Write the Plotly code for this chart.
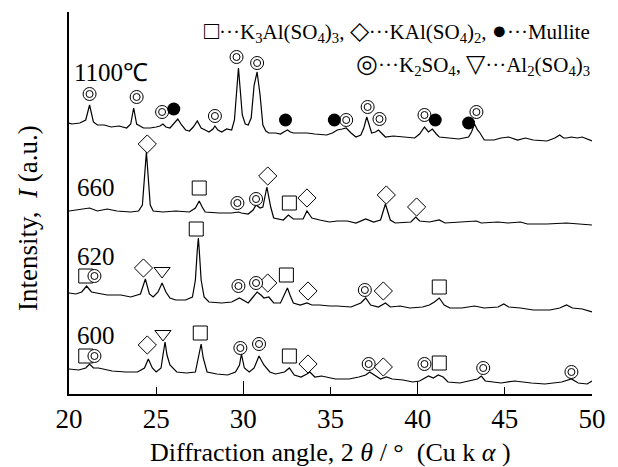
import plotly.graph_objects as go

# ---------------- data (2θ in degrees, intensity in a.u. incl. stacking offset) -------------
theta_1100 = [20.00,20.17,20.62,20.96,21.18,21.40,21.63,22.02,22.42,22.87,
              23.31,23.54,23.71,23.88,24.27,24.66,25.00,25.22,25.39,25.56,
              25.79,26.01,26.24,26.46,26.69,26.91,27.13,27.36,27.58,27.81,
              28.03,28.26,28.37,28.54,28.76,29.04,29.33,29.49,29.72,29.94,
              30.11,30.28,30.45,30.62,30.79,30.96,31.12,31.29,31.46,31.85,
              32.13,32.42,32.53,32.70,32.87,33.26,33.65,34.10,34.78,35.11,
              35.39,35.67,35.90,36.18,36.46,36.74,36.91,37.08,37.25,37.36,
              37.58,37.75,37.92,38.15,38.60,39.33,39.83,40.11,40.39,40.62,
              40.84,41.07,41.24,41.80,42.36,42.92,43.09,43.26,43.43,43.54,
              43.82,44.38,44.78,45.22,45.73,46.18,46.63,47.42,47.87,48.15,
              48.37,48.54,48.82,49.16,49.44,50.00]
int_1100 = [271,270,271,274,289,272,269,269,267,268,
            266,270,286,270,266,266,267,268,270,267,
            266,270,275,269,264,263,267,273,266,264,
            262,265,268,264,262,265,264,274,326,279,
            270,269,276,309,322,299,269,263,261,261,
            260,263,264,262,261,261,261,260,259,261,
            264,265,266,261,257,259,266,277,266,261,
            262,264,261,257,258,257,256,260,267,262,
            265,260,257,256,255,257,262,270,264,262,
            254,254,256,257,254,256,254,253,256,259,
            256,256,257,256,257,253]

theta_660 = [20.00,20.51,21.18,21.63,22.19,22.75,23.54,23.99,24.21,24.44,
             24.66,24.83,25.39,26.12,26.91,27.25,27.47,27.64,27.81,28.60,
             29.33,29.72,29.89,30.28,30.56,30.73,30.96,31.12,31.35,31.57,
             31.74,32.30,32.58,32.87,33.43,33.65,33.93,34.38,34.94,
             35.39,35.96,36.46,37.02,37.47,37.87,38.15,38.43,38.71,39.33,
             39.61,39.89,40.11,40.67,41.24,41.57,42.53,43.37,43.65,44.61,
             45.17,45.90,46.29,47.42,48.54,49.27,50.00]
int_660 = [183,184,186,183,185,183,182,183,189,242,
           189,183,182,183,182,186,193,187,182,181,
           181,182,181,180,184,189,186,187,207,187,
           176,174,179,175,175,183,176,174,172,
           173,173,171,175,172,174,190,174,171,172,
           172,177,173,172,174,171,172,173,171,172,
           171,172,170,170,171,170,169]

theta_620 = [20.00,20.39,20.73,21.01,21.29,21.57,22.19,22.98,23.54,24.10,
             24.38,24.61,24.83,25.11,25.34,25.56,25.79,26.12,26.69,27.08,
             27.25,27.36,27.42,27.47,27.58,27.75,28.03,28.76,29.33,29.78,
             30.28,30.56,30.79,31.01,31.18,31.46,31.74,32.13,32.30,32.53,
             32.70,32.87,33.26,33.65,33.93,34.38,34.94,35.39,36.18,36.74,
             37.02,37.30,37.75,38.15,38.43,38.99,39.55,40.28,40.67,40.96,
             41.24,41.52,41.85,42.53,43.26,43.82,44.61,44.94,45.22,45.90,
             46.63,47.58,48.15,48.54,48.88,49.44,50.00]
int_620 = [101,100,102,108,102,101,99,99,97,100,
           115,100,97,102,111,102,96,94,94,97,
           114,144,156,144,114,97,92,91,92,96,
           91,97,102,99,96,97,91,91,97,106,
           98,91,89,91,89,89,88,88,87,91,
           96,89,87,91,87,88,86,87,89,92,
           96,89,86,86,88,86,87,90,87,86,
           84,84,86,89,86,85,82]

theta_600 = [20.00,20.56,20.96,21.18,21.40,21.69,22.47,23.26,23.93,24.33,
             24.55,24.78,25.00,25.28,25.39,25.51,25.62,25.79,26.18,26.74,
             27.25,27.42,27.58,27.70,27.92,28.48,29.10,29.55,29.78,29.89,
             30.06,30.34,30.62,30.90,31.18,31.52,31.85,32.36,32.64,32.92,
             33.31,33.65,33.82,34.10,34.49,35.28,36.07,36.63,37.02,37.25,
             37.53,37.87,38.20,38.54,39.16,39.72,40.11,40.62,40.90,41.18,
             41.46,41.74,42.42,43.03,43.43,43.65,43.88,44.78,45.56,46.52,
             47.30,48.26,48.82,49.21,49.72,50.00]
int_600 = [25,24,26,30,26,26,23,22,22,26,
           35,26,22,26,39,52,39,29,22,21,
           22,36,50,36,22,20,19,22,29,40,
           26,22,26,38,29,22,20,22,26,19,
           17,20,22,17,18,15,15,17,19,22,
           19,15,17,15,14,12,13,18,16,19,
           17,12,11,13,15,18,13,11,13,11,
           10,12,15,11,10,13]

# phase marker positions (2θ, a.u.)
k3al_x = [27.47, 32.64, 20.96, 27.30, 32.47, 41.24, 20.96, 27.53, 32.64, 41.24]
k3al_y = [206, 191, 118, 165, 119, 107, 38, 61, 38, 31]
kal_x = [24.49, 31.40, 33.65, 38.20, 39.94, 24.27, 31.40, 33.71, 38.03, 24.49, 33.71, 38.03]
kal_y = [250, 218, 196, 199, 187, 126, 111, 103, 103, 49, 30, 27]
mull_x = [26.01, 32.42, 35.22, 41.01, 42.92]
mull_y = [285, 274, 274, 274, 271]
k2so4_x = [21.18, 23.88, 25.34, 28.37, 29.61, 30.79, 35.90, 37.13, 37.81, 40.39, 43.37,
           29.66, 30.73,
           21.46, 29.72, 30.73, 36.97,
           21.46, 29.83, 30.90, 37.19, 40.39, 43.76, 48.82]
k2so4_y = [300, 297, 282, 278, 337, 331, 274, 287, 275, 279, 282,
           191, 195,
           118, 108, 111, 104,
           38, 46, 50, 30, 30, 26, 22]
al2_x = [25.34, 25.39]
al2_y = [123, 60]

sample_labels = ["1100℃", "660", "620", "600"]
label_x = [20.20, 20.34, 20.34, 20.34]
label_y = [322, 207, 138, 59]

x_ticks = [20, 25, 30, 35, 40, 45, 50]
x_major = [20, 30, 40, 50]

SERIF = "Liberation Serif, Times New Roman, serif"
BLK = "black"

fig = go.Figure()
for tx, ty in [(theta_1100, int_1100), (theta_660, int_660),
               (theta_620, int_620), (theta_600, int_600)]:
    fig.add_trace(go.Scatter(x=tx, y=ty, mode="lines",
                             line=dict(color=BLK, width=1.2), hoverinfo="skip"))

# markers
fig.add_trace(go.Scatter(x=k3al_x, y=k3al_y, mode="markers",
                         marker=dict(symbol="square-open", size=14, color=BLK, line=dict(width=1))))
fig.add_trace(go.Scatter(x=kal_x, y=kal_y, mode="markers",
                         marker=dict(symbol="diamond-open", size=14, color=BLK, line=dict(width=1))))
fig.add_trace(go.Scatter(x=al2_x, y=al2_y, mode="markers",
                         marker=dict(symbol="triangle-down-open", size=14, color=BLK, line=dict(width=1))))
fig.add_trace(go.Scatter(x=k2so4_x, y=k2so4_y, mode="markers",
                         marker=dict(symbol="circle", size=13, color="white", line=dict(width=1, color=BLK))))
fig.add_trace(go.Scatter(x=k2so4_x, y=k2so4_y, mode="markers",
                         marker=dict(symbol="circle-open", size=7, color=BLK, line=dict(width=1))))
fig.add_trace(go.Scatter(x=mull_x, y=mull_y, mode="markers",
                         marker=dict(symbol="circle", size=13, color=BLK)))

# long major ticks via overlay axis
fig.add_trace(go.Scatter(x=[20, 50], y=[0, 0], xaxis="x2", mode="lines",
                         line=dict(width=0), opacity=0, hoverinfo="skip"))

for t, x, y in zip(sample_labels, label_x, label_y):
    fig.add_annotation(x=x, y=y, text=t, showarrow=False, xanchor="left", yanchor="middle",
                       font=dict(family=SERIF, size=25, color=BLK))


def sym(c):
    return '<span style="font-size:25px">' + c + '</span>'


legend1 = (sym("□") + "···K<sub>3</sub>Al(SO<sub>4</sub>)<sub>3</sub>, " + sym("◇")
           + "···KAl(SO<sub>4</sub>)<sub>2</sub>, " + sym("●") + "···Mullite")
legend2 = (sym("◎") + "···K<sub>2</sub>SO<sub>4</sub>, " + sym("▽")
           + "···Al<sub>2</sub>(SO<sub>4</sub>)<sub>3</sub>")
fig.add_annotation(x=1.0, y=0.95, xref="paper", yref="paper", text=legend1, showarrow=False,
                   xanchor="right", yanchor="middle", font=dict(family=SERIF, size=21, color=BLK))
fig.add_annotation(x=1.0, y=0.862, xref="paper", yref="paper", text=legend2, showarrow=False,
                   xanchor="right", yanchor="middle", font=dict(family=SERIF, size=21, color=BLK))

fig.add_annotation(x=0.5, y=-0.152, xref="paper", yref="paper",
                   text="Diffraction angle, 2 <i>θ</i> / °  (Cu k <i>α</i> )",
                   showarrow=False, xanchor="center", yanchor="middle",
                   font=dict(family=SERIF, size=26, color=BLK))
fig.add_annotation(x=-0.077, y=0.46, xref="paper", yref="paper",
                   text="Intensity,  <i>I</i> (a.u.)", textangle=-90,
                   showarrow=False, xanchor="center", yanchor="middle",
                   font=dict(family=SERIF, size=27, color=BLK))

fig.update_layout(
    width=618, height=467, margin=dict(l=69, r=15, t=12, b=73),
    paper_bgcolor="white", plot_bgcolor="white", showlegend=False,
    xaxis=dict(range=[20, 50], tickvals=x_ticks, ticks="inside", ticklen=7, tickwidth=1.3,
               tickcolor=BLK, showline=True, linecolor=BLK, linewidth=1.5,
               showgrid=False, zeroline=False,
               tickfont=dict(family=SERIF, size=27, color=BLK)),
    xaxis2=dict(range=[20, 50], overlaying="x", anchor="y", side="bottom",
                tickvals=x_major, ticks="inside", ticklen=13, tickwidth=1.3, tickcolor=BLK,
                showticklabels=False, showline=False, showgrid=False, zeroline=False),
    yaxis=dict(range=[0, 382], showline=True, linecolor=BLK, linewidth=1.5,
               showticklabels=False, ticks="", showgrid=False, zeroline=False),
)

fig.write_html("out.html")
